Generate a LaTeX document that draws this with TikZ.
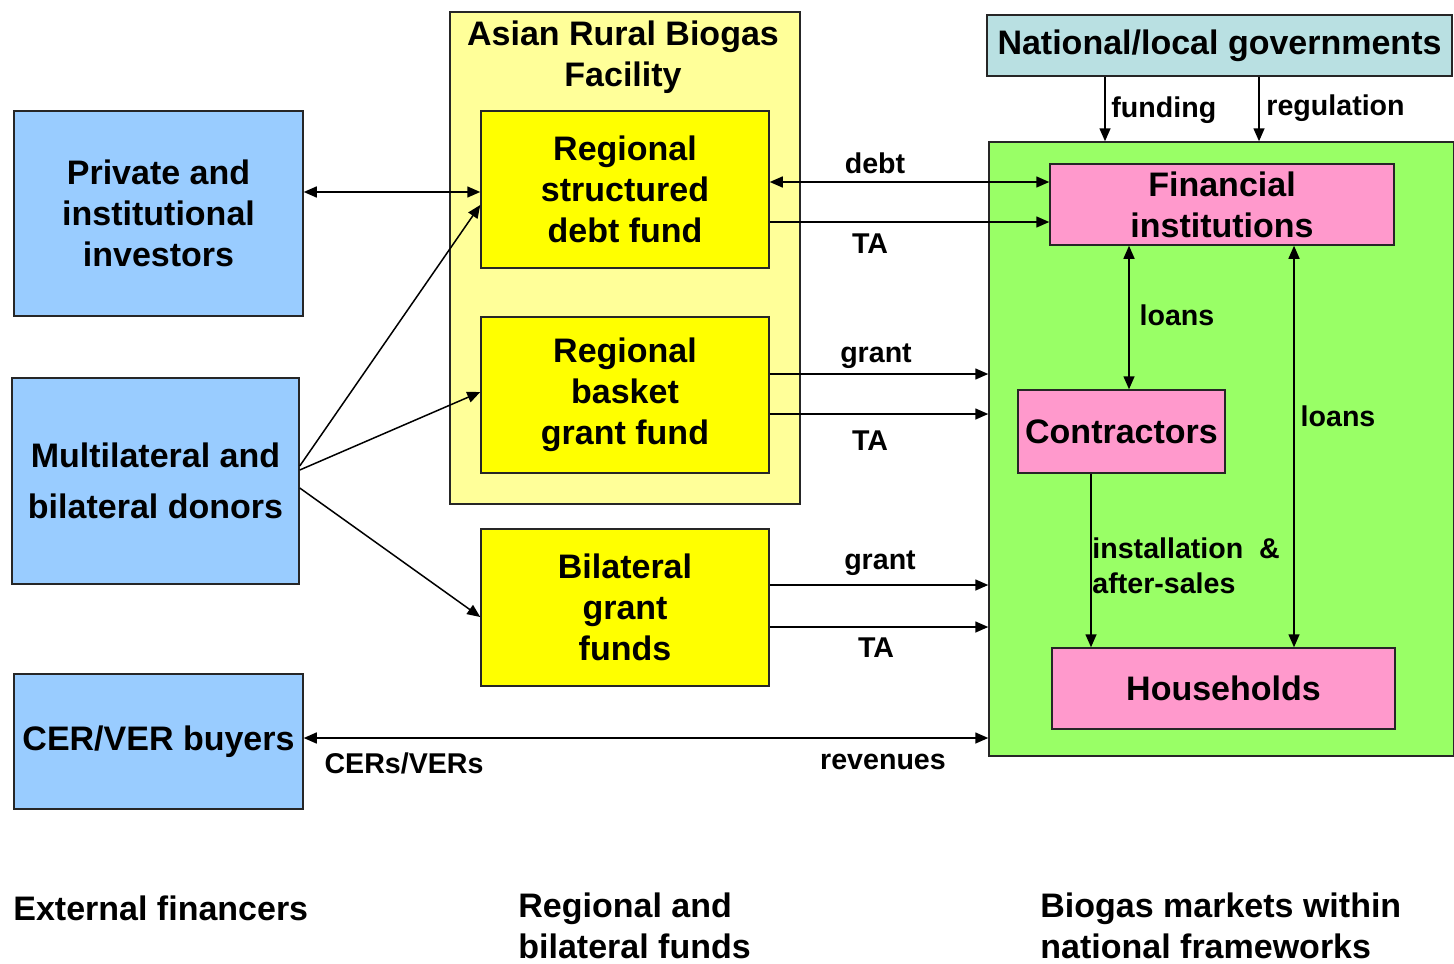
\documentclass[tikz,border=0pt]{standalone}
\usepackage{fontspec}
\setmainfont{Liberation Sans}
\usetikzlibrary{arrows.meta}
\definecolor{cblue}{HTML}{99CCFF}
\definecolor{cyel}{HTML}{FFFF00}
\definecolor{clyel}{HTML}{FFFF99}
\definecolor{cteal}{HTML}{B9E0E2}
\definecolor{cgreen}{HTML}{99FF66}
\definecolor{cpink}{HTML}{FF99CC}
\tikzset{
  box/.style={draw=black!85, line width=0.75pt, inner sep=0pt, align=center,
    font=\bfseries\fontsize{17}{20.5}\selectfont},
  lbl/.style={inner sep=0pt, font=\bfseries\fontsize{14.3}{17.5}\selectfont},
  btm/.style={inner sep=0pt, align=left, anchor=west, font=\bfseries\fontsize{17}{20.5}\selectfont},
  tip/.tip={Triangle[length=6.5pt,width=5.5pt]},
  arr/.style={line width=0.75pt, -tip},
  darr/.style={line width=0.75pt, tip-tip}
}
\begin{document}
\begin{tikzpicture}[x=0.5pt,y=-0.5pt]
\useasboundingbox (0,0) rectangle (1454,963);
% external financers
\node[box, fill=cblue, minimum width=144.5pt, minimum height=102.5pt] (priv) at (158.5,213.5) {Private and\\institutional\\investors};
\node[box, fill=cblue, minimum width=143.5pt, minimum height=103pt, font=\bfseries\fontsize{17}{25.5}\selectfont] (donors) at (155.5,481) {Multilateral and\\bilateral donors};
\node[box, fill=cblue, minimum width=144.5pt, minimum height=67.5pt] (cer) at (158.5,741.5) {CER/VER buyers};
% regional funds
\node[box, fill=clyel, minimum width=175pt, minimum height=246pt] (arbf) at (625,258) {};
\node[inner sep=0pt, align=center, font=\bfseries\fontsize{17}{20.5}\selectfont] (arbft) at (623,57) {Asian Rural Biogas\\Facility};
\node[box, fill=cyel, minimum width=144pt, minimum height=78.5pt] (debt) at (625,189.5) {Regional\\structured\\debt fund};
\node[box, fill=cyel, minimum width=144pt, minimum height=78pt] (basket) at (625,395) {Regional\\basket\\grant fund};
\node[box, fill=cyel, minimum width=144pt, minimum height=78.5pt] (bilat) at (625,607.5) {Bilateral\\grant\\funds};
% national
\node[box, fill=cteal, minimum width=232.5pt, minimum height=30.5pt] (gov) at (1219.5,45.5) {National/local governments};
\node[box, fill=cgreen, minimum width=232.5pt, minimum height=307pt] (green) at (1221.5,449) {};
\node[box, fill=cpink, minimum width=172pt, minimum height=40.5pt] (fin) at (1222,204.5) {Financial\\institutions};
\node[box, fill=cpink, minimum width=103.5pt, minimum height=41.5pt] (contr) at (1121.5,431.5) {Contractors};
\node[box, fill=cpink, minimum width=171.5pt, minimum height=40.5pt] (house) at (1223.5,688.5) {Households};
% connectors
\draw[darr] (priv.east |- 0,192) -- (debt.west |- 0,192);
\draw[arr] (donors.east |- 0,466) -- (debt.west |- 0,205);
\draw[arr] (donors.east |- 0,470) -- (basket.west |- 0,392);
\draw[arr] (donors.east |- 0,488) -- (bilat.west |- 0,617);
\draw[darr] (debt.east |- 0,182) -- (fin.west |- 0,182);
\draw[arr] (debt.east |- 0,222) -- (fin.west |- 0,222);
\draw[arr] (basket.east |- 0,374) -- (green.west |- 0,374);
\draw[arr] (basket.east |- 0,414) -- (green.west |- 0,414);
\draw[arr] (bilat.east |- 0,585) -- (green.west |- 0,585);
\draw[arr] (bilat.east |- 0,627) -- (green.west |- 0,627);
\draw[darr] (cer.east |- 0,738) -- (green.west |- 0,738);
\draw[arr] (gov.south -| 1105,0) -- (green.north -| 1105,0);
\draw[arr] (gov.south -| 1259,0) -- (green.north -| 1259,0);
\draw[darr] (fin.south -| 1129,0) -- (contr.north -| 1129,0);
\draw[darr] (fin.south -| 1294,0) -- (house.north -| 1294,0);
\draw[arr] (contr.south -| 1091,0) -- (house.north -| 1091,0);
% labels
\node[lbl] (ldebt) at (875,163) {debt};
\node[lbl] (lta1) at (870,244) {TA};
\node[lbl] (lgr1) at (876,356) {grant};
\node[lbl] (lta2) at (870,441) {TA};
\node[lbl] (lgr2) at (880,563) {grant};
\node[lbl] (lta3) at (876,648) {TA};
\node[lbl] (lcer) at (404,763) {CERs/VERs};
\node[lbl] (lrev) at (883,762) {revenues};
\node[lbl, anchor=west] (lfund) at (1111,110) {funding};
\node[lbl, anchor=west] (lreg) at (1266,108) {regulation};
\node[lbl] (lloan1) at (1177,315) {loans};
\node[lbl] (lloan2) at (1338,416) {loans};
\node[lbl, anchor=west, align=left] (linst) at (1092,566) {installation\hspace{0.55em}\&\\after-sales};
% column titles
\node[btm] (t1) at (13,908) {External financers};
\node[btm] (t2) at (518,926) {Regional and\\bilateral funds};
\node[btm] (t3) at (1040,926) {Biogas markets within\\national frameworks};
\end{tikzpicture}
\end{document}
